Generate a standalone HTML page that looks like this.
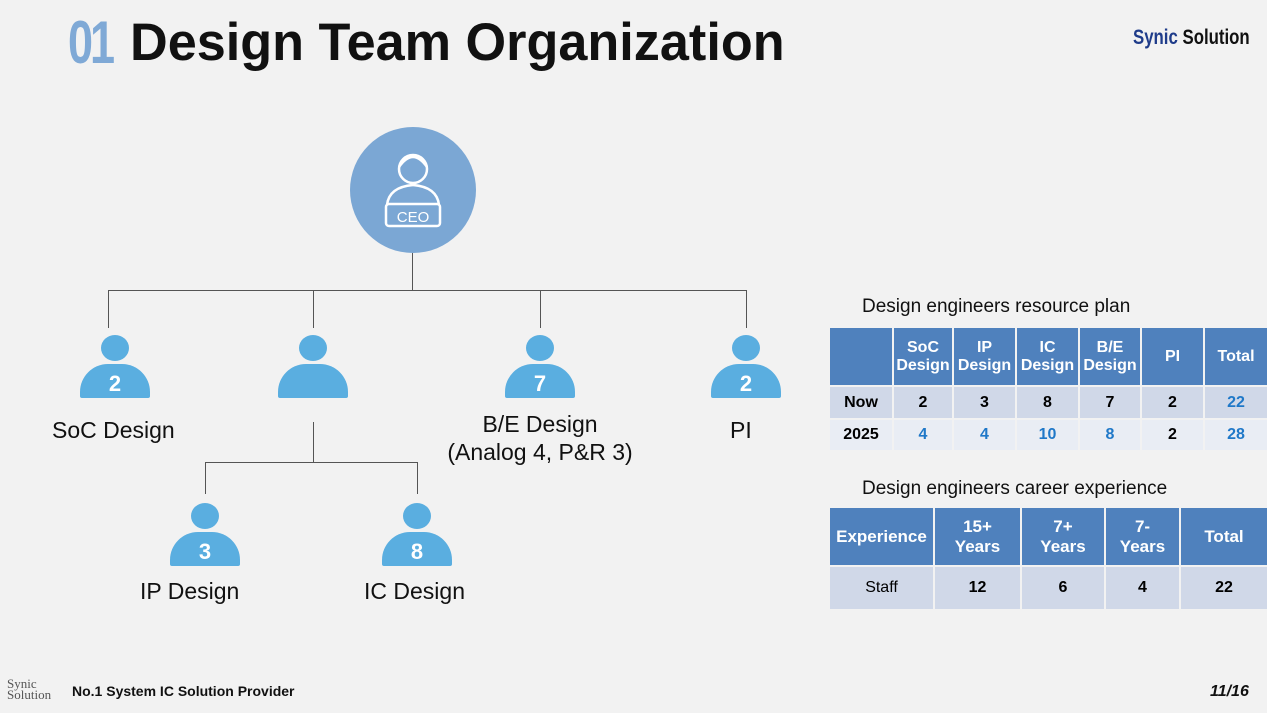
<!DOCTYPE html>
<html><head><meta charset="utf-8"><style>
body{margin:0;width:1267px;height:713px;background:#f2f2f2;position:relative;overflow:hidden;font-family:"Liberation Sans",sans-serif}
.a{position:absolute;white-space:nowrap}
.ln{position:absolute;background:#555}
.hd{position:absolute;width:28px;height:26px;border-radius:50%;background:#5aaee0}
.bd{position:absolute;width:70px;height:34px;border-radius:28px 28px 2px 2px;background:#5aaee0;color:#fff;font-weight:bold;font-size:22px;text-align:center;line-height:40px}
.lb{position:absolute;font-size:23px;color:#111;text-align:center;white-space:nowrap}
table{position:absolute;border-collapse:collapse;font-size:16px;font-weight:bold;text-align:center}
td{border:2px solid #f2f2f2;padding:0}
.h td{background:#4f81bd;color:#fff}
.r1 td{background:#d0d8e8}
.r2 td{background:#e9edf4}
.bl{color:#1f78c8}
</style></head><body>
<div class="a" style="left:68px;top:8px;font-size:60px;font-weight:bold;color:#7fa9d6;letter-spacing:-4px;transform:scaleX(0.75);transform-origin:left">01</div>
<div class="a" style="left:130px;top:12px;font-size:53px;font-weight:bold;color:#111;transform:scaleX(0.985);transform-origin:left">Design Team Organization</div>
<div class="a" style="left:1133px;top:26px;font-size:21px;font-weight:bold;transform:scaleX(0.8);transform-origin:left"><span style="color:#1f3c8a">Synic</span> <span style="color:#111">Solution</span></div>

<div class="a" style="left:350px;top:127px;width:126px;height:126px;border-radius:50%;background:#7ba7d4"></div>
<svg class="a" style="left:350px;top:127px" width="126" height="126" fill="none" stroke="#fff" stroke-width="2.5">
<circle cx="63" cy="42" r="14"/><path d="M49 40 q14-20 28 0 M37 78 q2-18 26-20 q24 2 26 20"/>
<rect x="36" y="77" width="54" height="22" rx="3"/>
<text x="63" y="95" fill="#fff" stroke="none" font-size="15" text-anchor="middle" font-family="Liberation Sans">CEO</text></svg>

<div class="ln" style="left:412px;top:253px;width:1px;height:37px"></div>
<div class="ln" style="left:108px;top:290px;width:639px;height:1px"></div>
<div class="ln" style="left:108px;top:290px;width:1px;height:38px"></div>
<div class="ln" style="left:313px;top:290px;width:1px;height:38px"></div>
<div class="ln" style="left:540px;top:290px;width:1px;height:38px"></div>
<div class="ln" style="left:746px;top:290px;width:1px;height:38px"></div>
<div class="ln" style="left:313px;top:422px;width:1px;height:40px"></div>
<div class="ln" style="left:205px;top:462px;width:213px;height:1px"></div>
<div class="ln" style="left:205px;top:462px;width:1px;height:32px"></div>
<div class="ln" style="left:417px;top:462px;width:1px;height:32px"></div>

<div class="hd" style="left:101px;top:335px"></div><div class="bd" style="left:80px;top:364px">2</div>
<div class="hd" style="left:299px;top:335px"></div><div class="bd" style="left:278px;top:364px"></div>
<div class="hd" style="left:526px;top:335px"></div><div class="bd" style="left:505px;top:364px">7</div>
<div class="hd" style="left:732px;top:335px"></div><div class="bd" style="left:711px;top:364px">2</div>
<div class="hd" style="left:191px;top:503px"></div><div class="bd" style="left:170px;top:532px">3</div>
<div class="hd" style="left:403px;top:503px"></div><div class="bd" style="left:382px;top:532px">8</div>

<div class="lb" style="left:52px;top:417px">SoC Design</div>
<div class="lb" style="left:440px;top:410px;width:200px;line-height:28px">B/E Design<br>(Analog 4, P&amp;R 3)</div>
<div class="lb" style="left:730px;top:417px">PI</div>
<div class="lb" style="left:140px;top:578px">IP Design</div>
<div class="lb" style="left:364px;top:578px">IC Design</div>

<div class="a" style="left:862px;top:296px;font-size:19px;color:#111">Design engineers resource plan</div>
<table style="left:828px;top:326px;width:441px">
<tr class="h" style="height:59px"><td style="width:62px"></td><td style="width:58px">SoC<br>Design</td><td style="width:61px">IP<br>Design</td><td style="width:61px">IC<br>Design</td><td style="width:60px">B/E<br>Design</td><td style="width:61px">PI</td><td>Total</td></tr>
<tr class="r1" style="height:33px"><td>Now</td><td>2</td><td>3</td><td>8</td><td>7</td><td>2</td><td class="bl">22</td></tr>
<tr class="r2" style="height:32px"><td>2025</td><td class="bl">4</td><td class="bl">4</td><td class="bl">10</td><td class="bl">8</td><td>2</td><td class="bl">28</td></tr>
</table>
<div class="a" style="left:862px;top:478px;font-size:19px;color:#111">Design engineers career experience</div>
<table style="left:828px;top:506px;width:441px">
<tr class="h" style="height:59px;font-size:17px"><td style="width:103px">Experience</td><td style="width:85px">15+<br>Years</td><td style="width:82px">7+<br>Years</td><td style="width:73px">7-<br>Years</td><td>Total</td></tr>
<tr class="r1" style="height:44px"><td style="font-weight:normal">Staff</td><td>12</td><td>6</td><td>4</td><td>22</td></tr>
</table>

<div class="a" style="left:7px;top:678px;font-family:'Liberation Serif',serif;font-size:13px;line-height:11px;color:#555">Synic<br>Solution</div>
<div class="a" style="left:72px;top:683px;font-size:14px;font-weight:bold;color:#111">No.1 System IC Solution Provider</div>
<div class="a" style="left:1210px;top:683px;font-size:16px;font-weight:bold;font-style:italic;color:#111">11/16</div>
</body></html>
